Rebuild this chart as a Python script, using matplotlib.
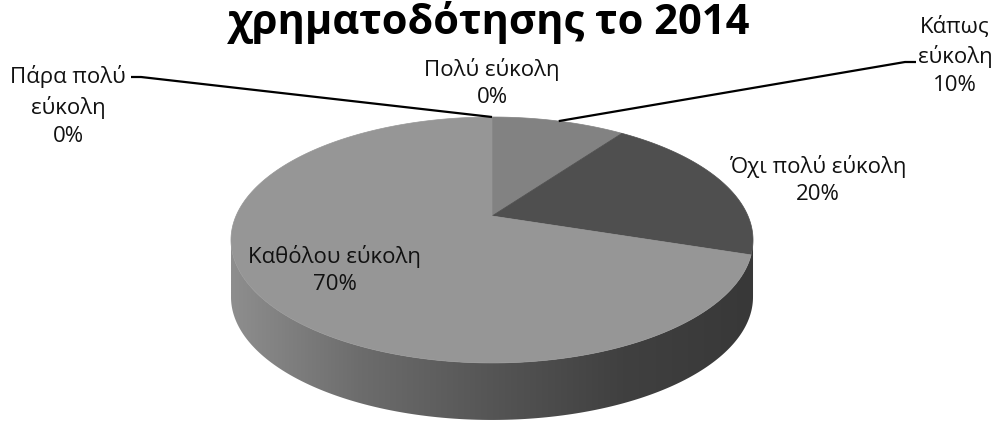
import numpy as np
import matplotlib
matplotlib.use("Agg")
import matplotlib.pyplot as plt
from matplotlib.patches import Polygon

plt.rcParams['font.family'] = ['Open Sans', 'DejaVu Sans']

# data: clockwise from 12 o'clock, as in the original Excel 3D pie
categories = ["Πάρα πολύ\nεύκολη", "Πολύ εύκολη", "Κάπως\nεύκολη", "Όχι πολύ εύκολη", "Καθόλου εύκολη"]
shares = [0, 0, 10, 20, 70]
title = "χρηματοδότησης το 2014"

TOP_COLORS = ["#969696", "#969696", "#828282", "#4f4f4f", "#969696"]
# side shading, left -> right
SIDE_STOPS = [0.0, 0.25, 0.5, 0.75, 1.0]
SIDE_GREYS = [0x8e, 0x6c, 0x55, 0x40, 0x38]

# label centres (pixels) and leader polylines (label end only)
LABEL_POS = [(68, 106), (492, 83), (955, 56), (818, 180), (335, 270)]
LEADER_FROM = {0: [(131, 77), (141, 77)], 2: [(916, 62), (905, 62)]}

# perspective model of the pie (pixels)
CX, CY = 492, 216
SX, SY, K = 256, 118.3, 0.195
DEPTH = 57


def proj(theta_deg):
    t = np.radians(theta_deg)
    u, v = np.sin(t), np.cos(t)
    return CX + SX * u / (1 + K * v), CY - SY * v / (1 + K * v)


W, H = 1001, 423
fig = plt.figure(figsize=(W / 100, H / 100), dpi=100)
ax = fig.add_axes([0, 0, 1, 1])
ax.set_xlim(0, W)
ax.set_ylim(H, 0)
ax.axis("off")

# side of the cylinder (front half, between the horizontal extremes)
a0 = np.degrees(np.arccos(-K))
a1 = 360 - a0
ts = np.linspace(a0, a1, 200)
tx, ty = proj(ts)
side = np.vstack([np.column_stack([tx, ty]), np.column_stack([tx[::-1], ty[::-1] + DEPTH])])
side_patch = Polygon(side, closed=True, facecolor="none", edgecolor="none")
ax.add_patch(side_patch)
xmin, xmax = tx.min(), tx.max()
cols = np.linspace(0, 1, 400)
g = np.interp(cols, SIDE_STOPS, SIDE_GREYS) / 255
img = np.repeat(np.stack([g, g, g], axis=-1)[None, :, :], 2, axis=0)
im = ax.imshow(img, extent=(xmin, xmax, ty.max() + DEPTH + 2, ty.min() - 2),
               aspect="auto", interpolation="bilinear", zorder=1)
im.set_clip_path(side_patch)

# top face wedges
start = 0.0
mids = []
for share, color in zip(shares, TOP_COLORS):
    span = share / sum(shares) * 360
    mids.append(start + span / 2)
    if span > 0:
        ang = np.linspace(start, start + span, max(int(span * 2), 2))
        px, py = proj(ang)
        pts = np.vstack([[CX, CY], np.column_stack([px, py])])
        ax.add_patch(Polygon(pts, closed=True, facecolor=color, edgecolor=color, lw=0.5, zorder=2))
    start += span

# leader lines
for i, pts in LEADER_FROM.items():
    ex, ey = proj(mids[i])
    xs = [p[0] for p in pts] + [ex]
    ys = [p[1] for p in pts] + [ey]
    ax.plot(xs, ys, color="black", lw=1.6, zorder=3, solid_capstyle="butt")

# labels
for cat, share, (lx, ly) in zip(categories, shares, LABEL_POS):
    ax.text(lx, ly, f"{cat}\n{share}%", ha="center", va="center", fontsize=16,
            linespacing=1.42, color="#111111", zorder=4)

ax.text(489, 23, title, ha="center", va="center", fontsize=30, fontweight="bold", color="black")

fig.savefig("out.png", dpi=100)
